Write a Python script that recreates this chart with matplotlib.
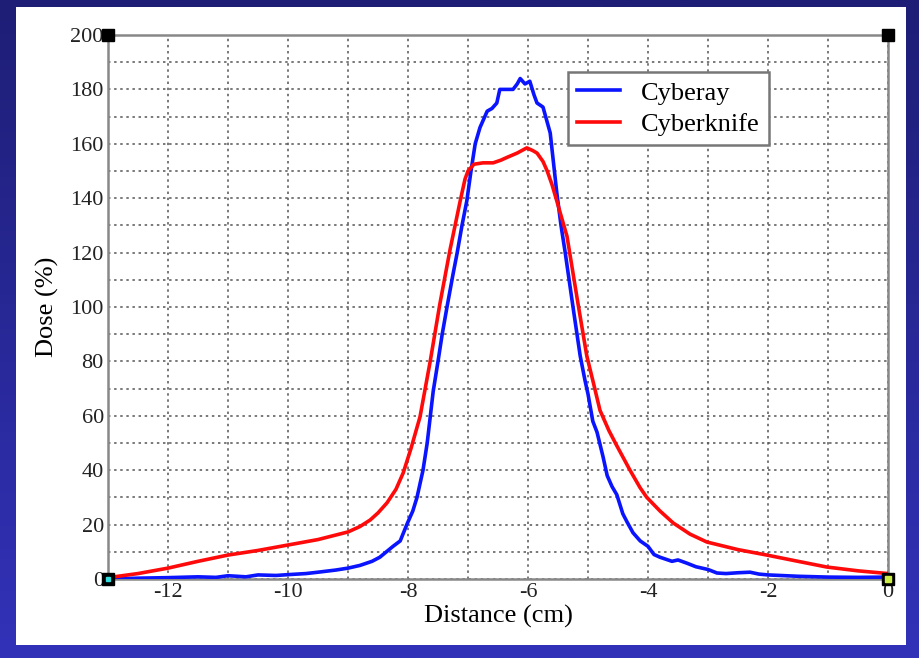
import numpy as np
import matplotlib
matplotlib.use("Agg")
import matplotlib.pyplot as plt
from matplotlib.patches import Rectangle

plt.rcParams['font.family'] = ['Liberation Serif', 'DejaVu Serif']
plt.rcParams['axes.unicode_minus'] = False

# Cyberay dose profile
cyberay_x = [-13.0, -12.5, -12.0, -11.5, -11.2, -11.0, -10.7, -10.5, -10.2, -10.0,
             -9.7, -9.5, -9.2, -9.0, -8.8, -8.6, -8.47, -8.25, -8.13, -8.02,
             -7.92, -7.85, -7.75, -7.68, -7.58, -7.5, -7.43, -7.35, -7.25, -7.18,
             -7.1, -7.02, -6.95, -6.88, -6.8, -6.68, -6.6, -6.52, -6.47, -6.35,
             -6.25, -6.18, -6.13, -6.05, -5.97, -5.9, -5.85, -5.75, -5.63, -5.52,
             -5.45, -5.38, -5.25, -5.13, -5.05, -5.0, -4.92, -4.85, -4.75, -4.68,
             -4.6, -4.52, -4.42, -4.35, -4.25, -4.13, -4.0, -3.9, -3.8, -3.6,
             -3.5, -3.35, -3.2, -3.0, -2.85, -2.7, -2.5, -2.3, -2.15, -2.0,
             -1.5, -1.0, -0.5, 0.0]
cyberay_y = [0.0, 0.3, 0.5, 0.8, 0.6, 1.2, 0.8, 1.5, 1.3, 1.6,
             2.0, 2.5, 3.3, 4.0, 5.0, 6.5, 8.0, 12.0, 14.0, 20.0,
             25.0, 30.0, 40.0, 50.0, 69.0, 80.0, 90.0, 100.0, 112.0, 120.0,
             130.0, 139.0, 150.0, 160.0, 166.0, 172.0, 173.0, 175.0, 180.0, 180.0,
             180.0, 182.0, 184.0, 182.0, 183.0, 178.0, 175.0, 173.5, 164.0, 142.0,
             130.0, 120.0, 100.0, 82.0, 73.0, 68.0, 58.0, 54.0, 45.0, 38.0,
             34.0, 31.0, 24.0, 21.0, 17.0, 14.0, 12.0, 9.0, 8.0, 6.5,
             7.0, 5.8, 4.5, 3.5, 2.2, 2.0, 2.3, 2.5, 1.8, 1.5,
             1.0, 0.7, 0.6, 0.7]

# Cyberknife dose profile
cyberknife_x = [-13.0, -12.5, -12.0, -11.5, -11.0, -10.5, -10.0, -9.5, -9.0, -8.8,
                -8.63, -8.5, -8.35, -8.2, -8.08, -7.95, -7.8, -7.63, -7.47, -7.3,
                -7.13, -7.05, -7.0, -6.9, -6.75, -6.58, -6.45, -6.35, -6.18, -6.02,
                -5.92, -5.85, -5.75, -5.68, -5.6, -5.52, -5.35, -5.18, -5.02, -4.92,
                -4.8, -4.65, -4.52, -4.3, -4.13, -4.02, -3.8, -3.58, -3.3, -3.02,
                -2.5, -2.02, -1.5, -1.02, -0.5, 0.0]
cyberknife_y = [0.5, 2.0, 4.0, 6.5, 8.8, 10.5, 12.5, 14.5, 17.3, 19.3,
                21.7, 24.3, 28.0, 33.0, 39.0, 48.0, 59.6, 80.0, 101.0, 121.0,
                139.0, 147.0, 150.0, 152.5, 153.0, 153.0, 154.0, 155.0, 156.6, 158.5,
                157.5, 156.6, 153.5, 150.0, 145.0, 139.0, 126.0, 103.0, 82.0, 73.0,
                62.0, 54.5, 49.0, 40.0, 33.5, 30.0, 25.0, 20.6, 16.5, 13.6,
                10.8, 8.8, 6.5, 4.4, 3.0, 2.0]

x_ticks = [-12, -10, -8, -6, -4, -2, 0]
y_ticks = [0, 20, 40, 60, 80, 100, 120, 140, 160, 180, 200]

fig = plt.figure(figsize=(9.2, 6.58), dpi=100)

# blue slide background + white panel
bg = fig.add_axes([0, 0, 1, 1], zorder=-10)
grad = np.linspace(0, 1, 256).reshape(-1, 1)
top = np.array([30, 30, 118]) / 255
bot = np.array([50, 50, 185]) / 255
img = top + (bot - top) * grad[:, :, None]
bg.imshow(img, aspect='auto', extent=[0, 1, 0, 1])
bg.add_patch(Rectangle((16 / 920, 1 - 645 / 658), 890 / 920, 638 / 658,
                       facecolor='white', edgecolor='none'))
bg.set_xlim(0, 1)
bg.set_ylim(0, 1)
bg.axis('off')

ax = fig.add_axes([108 / 920, 1 - 579 / 658, 780 / 920, 544 / 658])
ax.set_facecolor('none')
ax.plot(cyberay_x, cyberay_y, color='#0a14ff', lw=2.6, label='Cyberay', zorder=3)
ax.plot(cyberknife_x, cyberknife_y, color='#ff0a0a', lw=2.6, label='Cyberknife', zorder=3)

ax.set_xlim(-13, 0)
ax.set_ylim(0, 200)
ax.set_xticks(x_ticks)
ax.set_yticks(y_ticks)
ax.set_xticks(np.arange(-13, 1, 1), minor=True)
ax.set_yticks(np.arange(0, 201, 10), minor=True)
ax.grid(which='both', color='#555555', linestyle=(0, (1.6, 2.4)), linewidth=1.1)
ax.tick_params(which='both', length=0, labelsize=16, pad=3, colors='#222222')
for s in ax.spines.values():
    s.set_color('#888888')
    s.set_linewidth(1.8)

ax.set_xlabel('Distance (cm)', fontsize=19, labelpad=2)
ax.set_ylabel('Dose (%)', fontsize=19, labelpad=8)

# corner markers
ax.plot([-13, 0, -13, 0], [200, 200, 0, 0], 's', color='black', ms=8,
        clip_on=False, zorder=5)
ax.plot([-13], [0], 's', color='#33dddd', ms=3, clip_on=False, zorder=6)
ax.plot([0], [0], 's', color='#ccee44', ms=4, clip_on=False, zorder=6)

leg = ax.legend(loc='upper right', bbox_to_anchor=(0.847, 0.932), fontsize=19,
                fancybox=False, framealpha=1, edgecolor='#777777',
                handlelength=1.6, borderpad=0.35, labelspacing=0.3,
                borderaxespad=0)
leg.get_frame().set_linewidth(1.8)

fig.savefig('out.png', dpi=100)
